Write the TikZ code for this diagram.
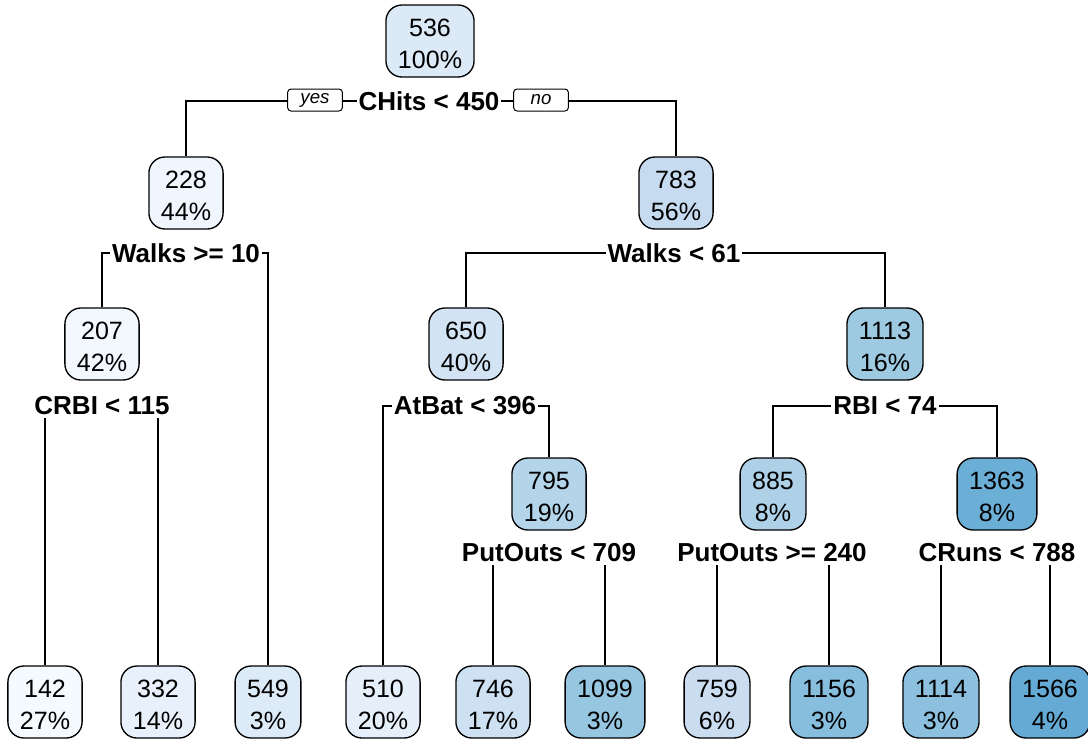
\documentclass[tikz,border=0pt]{standalone}
\usepackage{fontspec}
\setmainfont{Liberation Sans}
\usetikzlibrary{backgrounds}
\definecolor{c536}{HTML}{DCE9F6}
\definecolor{c228}{HTML}{F0F6FD}
\definecolor{c207}{HTML}{F3F8FE}
\definecolor{c142}{HTML}{F5FAFF}
\definecolor{c332}{HTML}{E8F1FB}
\definecolor{c549}{HTML}{DDEAF7}
\definecolor{c510}{HTML}{E5EFFA}
\definecolor{c746}{HTML}{CEE1F2}
\definecolor{c1099}{HTML}{96C6E0}
\definecolor{c783}{HTML}{C6DBEF}
\definecolor{c650}{HTML}{D2E3F3}
\definecolor{c1113}{HTML}{9ECAE1}
\definecolor{c795}{HTML}{B4D5E9}
\definecolor{c885}{HTML}{AED1E7}
\definecolor{c1363}{HTML}{6BAED6}
\definecolor{c759}{HTML}{CADDF0}
\definecolor{c1156}{HTML}{87BEDE}
\definecolor{c1114}{HTML}{8CC0DE}
\definecolor{c1566}{HTML}{65AAD4}
\begin{document}
\begin{tikzpicture}[x=0.75pt,y=-0.75pt,
  box/.style={draw, line width=1pt, rounded corners=12pt, align=center,
    font=\fontsize{18.8}{24}\selectfont, text height=40.5pt, text depth=0pt,
    minimum height=54pt, inner xsep=9pt, inner ysep=0pt},
  lab/.style={font=\fontsize{19.5}{22}\selectfont\bfseries, fill=white, inner xsep=1.5pt, inner ysep=2pt},
  yn/.style={draw, line width=0.75pt, rounded corners=2.5pt, fill=white,
    font=\fontsize{14}{16}\selectfont\itshape, minimum width=41pt, minimum height=16.5pt, inner sep=0pt},
  edge/.style={line width=1pt}]
\useasboundingbox (0,0) rectangle (1088,740);
% internal nodes
\node[box, fill=c536] (n536) at (430,41) {536\\100\%};
\node[box, fill=c228] (n228) at (186,193) {228\\44\%};
\node[box, fill=c783] (n783) at (676,193) {783\\56\%};
\node[box, fill=c207] (n207) at (102,344) {207\\42\%};
\node[box, fill=c650] (n650) at (466,344) {650\\40\%};
\node[box, fill=c1113] (n1113) at (885,344) {1113\\16\%};
\node[box, fill=c795] (n795) at (549,494) {795\\19\%};
\node[box, fill=c885] (n885) at (773,494) {885\\8\%};
\node[box, fill=c1363] (n1363) at (997,494) {1363\\8\%};
% leaves
\node[box, fill=c142] (l142) at (45,702) {142\\27\%};
\node[box, fill=c332] (l332) at (158,702) {332\\14\%};
\node[box, fill=c549] (l549) at (268,702) {549\\3\%};
\node[box, fill=c510] (l510) at (383,702) {510\\20\%};
\node[box, fill=c746] (l746) at (493,702) {746\\17\%};
\node[box, fill=c1099] (l1099) at (605,702) {1099\\3\%};
\node[box, fill=c759] (l759) at (717,702) {759\\6\%};
\node[box, fill=c1156] (l1156) at (829,702) {1156\\3\%};
\node[box, fill=c1114] (l1114) at (941,702) {1114\\3\%};
\node[box, fill=c1566] (l1566) at (1050,702) {1566\\4\%};
% split labels
\node[lab] (s1) at (429,101) {CHits < 450};
\node[yn] (yes) at (315,100) {yes};
\node[yn] (no) at (541,100) {no};
\node[lab] (s2) at (186,253) {Walks >= 10};
\node[lab] (s3) at (674,253) {Walks < 61};
\node[lab] (s4) at (102,406) {CRBI < 115};
\node[lab] (s5) at (465,406) {AtBat < 396};
\node[lab] (s6) at (885,406) {RBI < 74};
\node[lab] (s7) at (549,553) {PutOuts < 709};
\node[lab] (s8) at (772,553) {PutOuts >= 240};
\node[lab] (s9) at (997,553) {CRuns < 788};
% connectors
\begin{pgfonlayer}{background}
\draw[edge] (n228.north) |- (s1.center) -| (n783.north);
\draw[edge] (n207.north) |- (s2.center) -| (l549.north);
\draw[edge] (n650.north) |- (s3.center) -| (n1113.north);
\draw[edge] (l142.north) |- (s4.center) -| (l332.north);
\draw[edge] (l510.north) |- (s5.center) -| (n795.north);
\draw[edge] (n885.north) |- (s6.center) -| (n1363.north);
\draw[edge] (l746.north) |- (s7.center) -| (l1099.north);
\draw[edge] (l759.north) |- (s8.center) -| (l1156.north);
\draw[edge] (l1114.north) |- (s9.center) -| (l1566.north);
\end{pgfonlayer}
\end{tikzpicture}
\end{document}
